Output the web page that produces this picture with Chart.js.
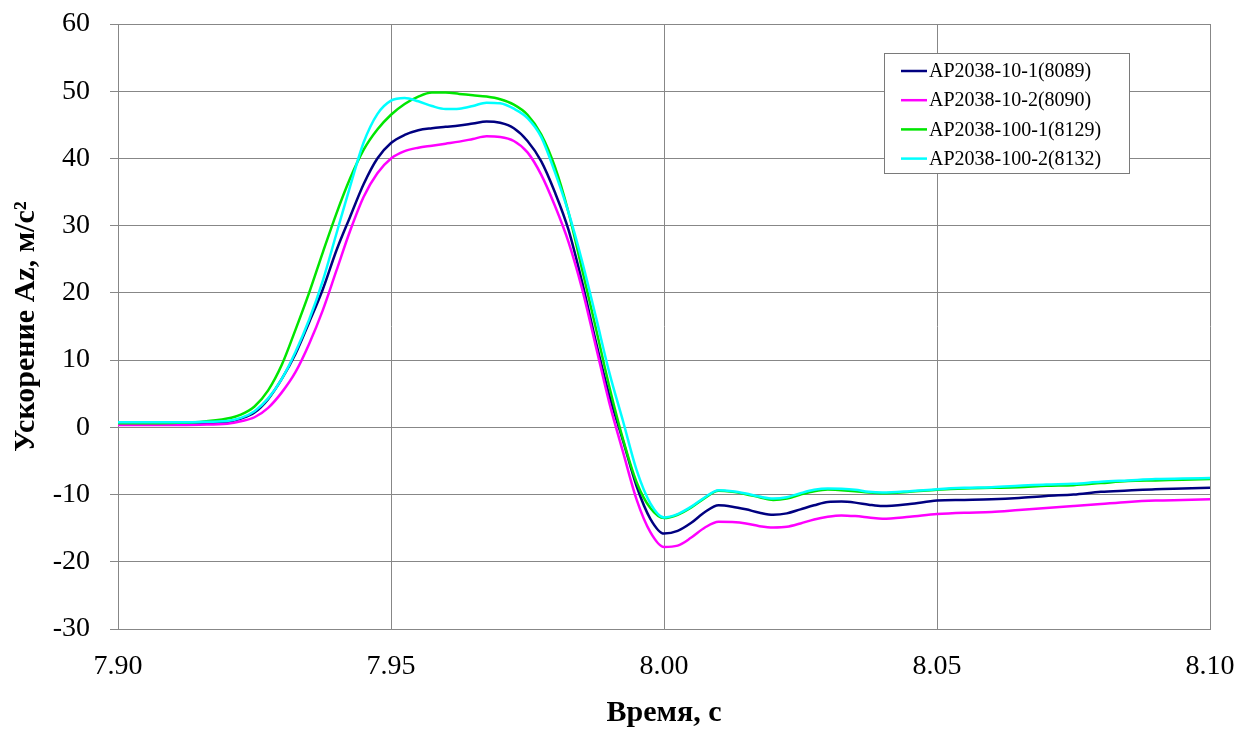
<!DOCTYPE html>
<html>
<head>
<meta charset="utf-8">
<script src="https://cdn.jsdelivr.net/npm/chart.js@4/dist/chart.umd.min.js"></script>
<style>
  html, body { margin: 0; padding: 0; background: #fff; }
  #wrap { width: 1238px; height: 731px; }
</style>
</head>
<body>
<div id="wrap"><canvas id="chart" width="1238" height="731"></canvas></div>
<script>
// time samples, s
const timeS = [7.90, 7.905, 7.91, 7.915, 7.92, 7.9225, 7.925, 7.9275, 7.93, 7.9325, 7.935, 7.9375,
  7.94, 7.9425, 7.945, 7.9475, 7.95, 7.9525, 7.955, 7.9575, 7.96, 7.9625, 7.965, 7.9675,
  7.97, 7.9725, 7.975, 7.9775, 7.98, 7.9825, 7.985, 7.9875, 7.99, 7.9925, 7.995, 7.9975,
  8.00, 8.0025, 8.005, 8.0075, 8.01, 8.0125, 8.015, 8.0175, 8.02, 8.0225, 8.025, 8.0275,
  8.03, 8.0325, 8.035, 8.0375, 8.04, 8.045, 8.05, 8.055, 8.06, 8.065, 8.07, 8.075,
  8.08, 8.085, 8.09, 8.095, 8.10];

// Az, m/s2
const az10_1 = [0.5, 0.5, 0.5, 0.55, 0.8, 1.3, 2.2, 4.2, 7.2, 10.9, 15.6, 20.5,
  26.3, 31.3, 36.2, 40.0, 42.3, 43.5, 44.2, 44.5, 44.7, 44.9, 45.2, 45.5,
  45.3, 44.5, 42.6, 39.6, 35.0, 29.4, 21.6, 12.8, 4.7, -2.0, -8.8, -13.6,
  -15.8, -15.4, -14.2, -12.6, -11.6, -11.8, -12.2, -12.7, -13.0, -12.8, -12.2, -11.6,
  -11.1, -11.05, -11.2, -11.5, -11.7, -11.4, -10.9, -10.8, -10.7, -10.5, -10.2, -10.0,
  -9.6, -9.4, -9.2, -9.1, -9.0];
const az10_2 = [0.35, 0.35, 0.35, 0.4, 0.55, 0.9, 1.5, 2.9, 5.2, 8.2, 12.4, 17.4,
  23.3, 29.2, 34.3, 37.8, 40.0, 41.1, 41.6, 41.9, 42.2, 42.5, 42.9, 43.3,
  43.2, 42.6, 40.9, 37.6, 33.0, 27.6, 20.6, 12.1, 3.6, -3.7, -10.8, -15.6,
  -17.8, -17.6, -16.4, -14.9, -14.05, -14.1, -14.3, -14.7, -14.9, -14.8, -14.3, -13.7,
  -13.3, -13.1, -13.2, -13.4, -13.6, -13.3, -12.9, -12.7, -12.6, -12.3, -12.0, -11.7,
  -11.4, -11.1, -10.9, -10.8, -10.7];
const az100_1 = [0.6, 0.6, 0.65, 0.8, 1.3, 1.9, 3.1, 5.5, 9.3, 14.5, 20.0, 26.0,
  31.8, 37.0, 41.3, 44.3, 46.5, 48.1, 49.2, 49.8, 49.8, 49.6, 49.4, 49.2,
  48.8, 48.0, 46.5, 43.6, 38.8, 32.0, 23.5, 14.8, 6.0, -1.8, -8.2, -12.0,
  -13.5, -13.0, -11.9, -10.5, -9.45, -9.6, -9.95, -10.4, -10.8, -10.6, -10.0, -9.5,
  -9.25, -9.35, -9.5, -9.7, -9.8, -9.6, -9.3, -9.1, -9.0, -8.9, -8.7, -8.6,
  -8.3, -8.0, -7.9, -7.8, -7.7];
const az100_2 = [0.75, 0.75, 0.75, 0.8, 0.95, 1.4, 2.4, 4.3, 7.2, 11.2, 16.0, 21.8,
  28.8, 35.8, 42.4, 46.6, 48.6, 49.0, 48.5, 47.8, 47.35, 47.4, 47.8, 48.3,
  48.2, 47.4, 46.0, 43.2, 38.0, 32.0, 24.7, 16.5, 8.1, 0.9, -6.4, -11.3,
  -13.4, -12.9, -11.8, -10.4, -9.35, -9.5, -9.85, -10.3, -10.6, -10.4, -9.8, -9.3,
  -9.1, -9.15, -9.3, -9.6, -9.7, -9.5, -9.2, -9.0, -8.9, -8.7, -8.5, -8.4,
  -8.1, -7.9, -7.7, -7.6, -7.55];

const seriesNames = ["AP2038-10-1(8089)", "AP2038-10-2(8090)", "AP2038-100-1(8129)", "AP2038-100-2(8132)"];
const seriesColors = ["#000080", "#ff00ff", "#00e600", "#00ffff"];
const seriesValues = [az10_1, az10_2, az100_1, az100_2];

const xTickValues = [7.90, 7.95, 8.00, 8.05, 8.10];

const yTitle = "Ускорение Az, м/с²";
const xTitle = "Время, с";

const gridColor = "#878787";
const serif = "'Liberation Serif', 'Times New Roman', serif";

// legend box in the upper right corner of the plot
const boxLegend = {
  id: "boxLegend",
  afterDraw(chart) {
    const ctx = chart.ctx;
    const x = 884, y = 53, w = 245, h = 120;
    ctx.save();
    ctx.fillStyle = "#fff";
    ctx.fillRect(x, y, w, h);
    ctx.strokeStyle = "#7a7a7a";
    ctx.lineWidth = 1;
    ctx.strokeRect(x + 0.5, y + 0.5, w, h);
    ctx.font = "20px " + serif;
    ctx.textBaseline = "middle";
    chart.data.datasets.forEach((ds, i) => {
      const ry = y + 18 + i * 29.2;
      ctx.strokeStyle = ds.borderColor;
      ctx.lineWidth = 2.5;
      ctx.beginPath();
      ctx.moveTo(x + 17, ry);
      ctx.lineTo(x + 43, ry);
      ctx.stroke();
      ctx.fillStyle = "#000";
      ctx.fillText(ds.label, x + 45, ry + 1);
    });
    ctx.restore();
  },
};

const datasets = seriesNames.map((name, i) => ({
  label: name,
  data: timeS.map((t, k) => ({ x: t, y: seriesValues[i][k] })),
  borderColor: seriesColors[i],
  borderWidth: 2.5,
  pointRadius: 0,
  cubicInterpolationMode: "monotone",
  fill: false,
  order: seriesNames.length - i,
}));

new Chart(document.getElementById("chart"), {
  type: "line",
  data: { datasets },
  plugins: [boxLegend],
  options: {
    responsive: false,
    animation: false,
    layout: { padding: { top: 24, right: 28, left: 0, bottom: 0 } },
    plugins: { legend: { display: false }, tooltip: { enabled: false } },
    scales: {
      x: {
        type: "linear",
        min: 7.9,
        max: 8.1,
        afterFit: (s) => {
          s.height = 102;
          s.paddingLeft = 0;
          s.paddingRight = 0;
        },
        afterBuildTicks: (s) => {
          s.ticks = xTickValues.map((v) => ({ value: v }));
        },
        ticks: {
          color: "#000",
          font: { family: serif, size: 28 },
          padding: 21,
          maxRotation: 0,
          callback: (v) => Number(v).toFixed(2),
        },
        grid: { color: gridColor, drawTicks: false },
        border: { color: gridColor },
        title: {
          display: true,
          text: xTitle,
          color: "#000",
          font: { family: serif, size: 30, weight: "bold" },
          padding: { top: 0, bottom: 0 },
        },
      },
      y: {
        min: -30,
        max: 60,
        afterFit: (s) => {
          s.width = 118;
          s.paddingTop = 0;
          s.paddingBottom = 0;
        },
        ticks: {
          stepSize: 10,
          color: "#000",
          font: { family: serif, size: 28 },
          padding: 20,
        },
        grid: { color: gridColor, tickLength: 8 },
        border: { color: gridColor },
        title: {
          display: true,
          text: yTitle,
          color: "#000",
          font: { family: serif, size: 30, weight: "bold" },
          padding: { top: 8, bottom: 0 },
        },
      },
    },
  },
});
</script>
</body>
</html>
